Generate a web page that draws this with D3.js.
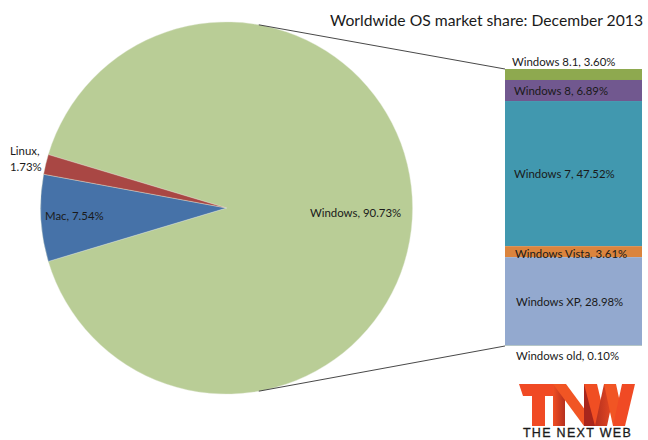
<!DOCTYPE html>
<html><head><meta charset="utf-8">
<script src="https://cdn.jsdelivr.net/npm/d3@7"></script>
<style>html,body{margin:0;padding:0;background:#fff}svg{display:block}text{font-family:Lato,"Open Sans",sans-serif;fill:#1a1a1a}</style>
</head><body><svg id="c" width="648" height="440"></svg>
<script>
const pieNames=["Windows","Mac","Linux"];
const pieValues=[90.73,7.54,1.73];
const pieColors=["#b9cd96","#4672a8","#a94744"];
const barNames=["Windows 8.1","Windows 8","Windows 7","Windows Vista","Windows XP","Windows old"];
const barValues=[3.60,6.89,47.52,3.61,28.98,0.10];
const barColors=["#8ea94f","#71588f","#4198af","#db843d","#93a9cf","#b9cd96"];
const title="Worldwide OS market share: December 2013";

const svg=d3.select("#c");
const cx=226.5,cy=208,R=186;
const half=pieValues[0]/100*Math.PI;
const pie=d3.pie().sort(null).value(d=>d).startAngle(Math.PI/2-half).endAngle(Math.PI/2-half+2*Math.PI);
const arc=d3.arc().innerRadius(0).outerRadius(R);
const g=svg.append("g").attr("transform",`translate(${cx},${cy})`);
g.selectAll("path").data(pie(pieValues)).join("path").attr("d",arc).attr("fill",(d,i)=>pieColors[i]).attr("stroke","#dfe6d2").attr("stroke-width",.4);

const barX=505,barW=137,barTop=69,barBot=346;
const total=d3.sum(barValues);
const y=d3.scaleLinear().domain([0,total]).range([barTop,barBot]);
let acc=0;
const stack=barValues.map(v=>{const s={y0:acc,y1:acc+v};acc+=v;return s;});
svg.append("g").selectAll("rect").data(stack).join("rect")
 .attr("x",barX).attr("width",barW).attr("y",d=>y(d.y0)).attr("height",d=>y(d.y1)-y(d.y0))
 .attr("fill",(d,i)=>barColors[i]);

// connector lines
const ca=80*Math.PI/180;
[[-1,barTop],[1,barBot]].forEach(([s,by])=>{
 svg.append("line").attr("x1",cx+R*Math.cos(ca)).attr("y1",cy+s*R*Math.sin(ca)).attr("x2",barX).attr("y2",by).attr("stroke","#333").attr("stroke-width",.9);
});

const fs=11.4;
function label(t,x,yy,anchor="start",size=fs){svg.append("text").attr("x",x).attr("y",yy).attr("text-anchor",anchor).attr("font-size",size).text(t);}
label(title,643,26,"end",15.7);
label(`${pieNames[0]}, ${pieValues[0].toFixed(2)}%`,310,217);
label(`${pieNames[1]}, ${pieValues[1].toFixed(2)}%`,45,220);
label(`${pieNames[2]},`,10,155);
label(`${pieValues[2].toFixed(2)}%`,10,171);
const labelPos=[[512,66],[514,95],[514,178],[515,258],[516,306],[516,360]];
barNames.forEach((n,i)=>label(`${n}, ${barValues[i].toFixed(2)}%`,labelPos[i][0],labelPos[i][1]));

// logo
const defs=svg.append("defs");
const mk=(id,a,b,x1,x2)=>{const gr=defs.append("linearGradient").attr("id",id).attr("x1",x1).attr("x2",x2).attr("y1","0").attr("y2","0");
 gr.append("stop").attr("offset","0").attr("stop-color",a);gr.append("stop").attr("offset","1").attr("stop-color",b);};
mk("foldA","#f04e23","#b5301f","0","1");
mk("foldB","#b5301f","#f04e23","0","1");
const lg=svg.append("g");
lg.append("path").attr("fill","#f04a24").attr("d","M519,384H556V396H545V426H532V396H523Z");
lg.append("path").attr("fill","url(#foldA)").attr("d","M553,384H565V426H553Z");
lg.append("path").attr("fill","#f15524").attr("d","M553,384H566L597,426H584Z");
lg.append("path").attr("fill","#a8261c").attr("d","M584,384H597V426H584Z");
lg.append("path").attr("fill","#f04e23").attr("d","M584,384H597L607,426H595Z");
lg.append("path").attr("fill","url(#foldB)").attr("d","M595,426H607L616,384H604Z");
lg.append("path").attr("fill","#f15524").attr("d","M604,384H616L625,426H613Z");
lg.append("path").attr("fill","#f04a24").attr("d","M613,426H625L635,384H622Z");
svg.append("text").attr("x",577.5).attr("y",437).attr("text-anchor","middle").attr("font-size",12.5).attr("letter-spacing",1.3).attr("stroke","#1a1a1a").attr("stroke-width",.3).style("font-family","'Liberation Sans',sans-serif").text("THE NEXT WEB");
</script></body></html>
